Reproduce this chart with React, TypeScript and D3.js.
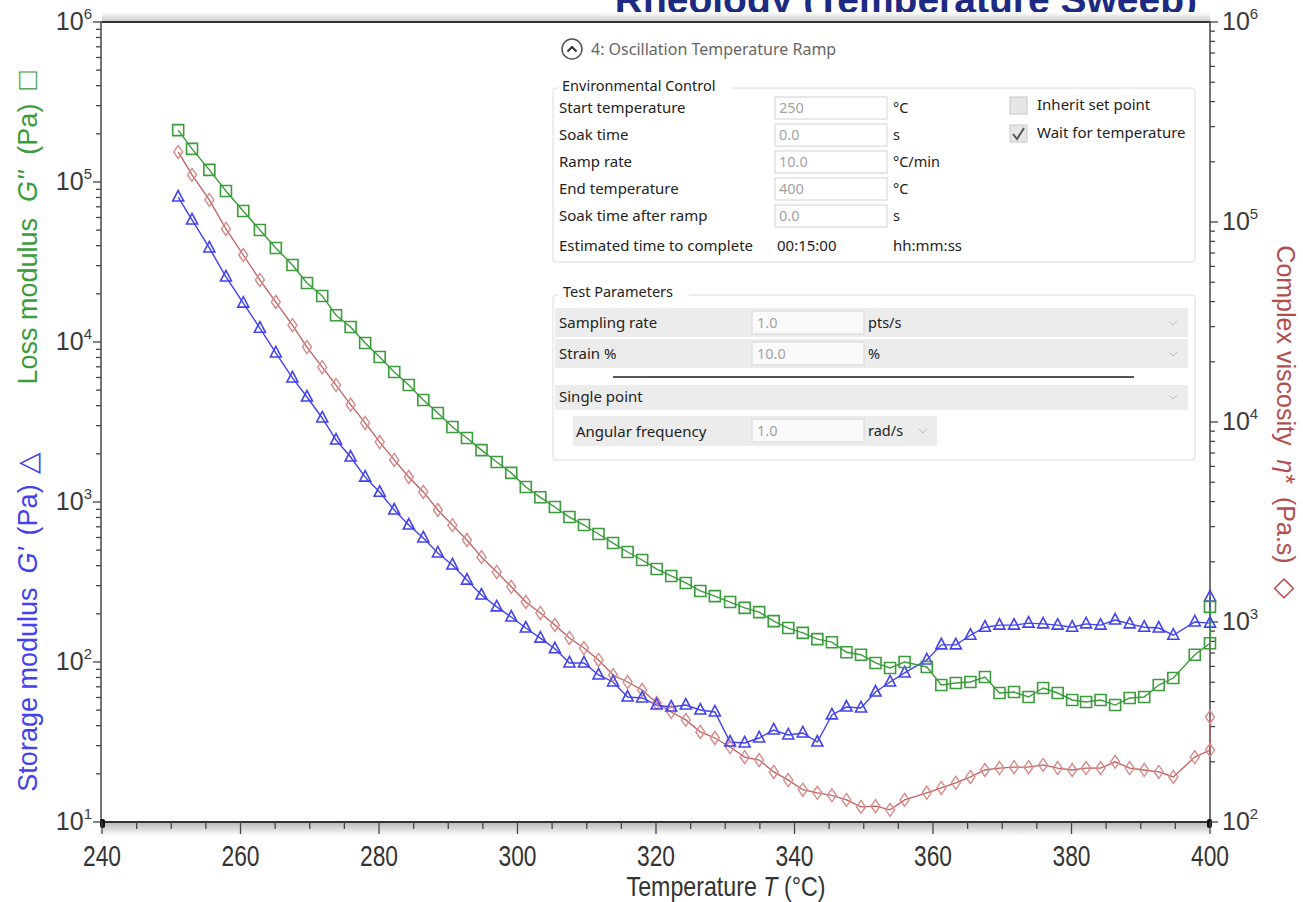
import React from "react";
import * as d3 from "d3";

// sample temperatures (°C)
const temperature = [
  251.0, 253.0, 255.5, 257.9, 260.4, 262.8, 265.1, 267.5, 269.6, 271.8,
  273.8, 275.9, 278.0, 280.1, 282.2, 284.3, 286.4, 288.5, 290.6, 292.7,
  294.8, 297.0, 299.1, 301.2, 303.3, 305.4, 307.5, 309.6, 311.7, 313.8,
  315.9, 318.0, 320.1, 322.2, 324.3, 326.4, 328.5, 330.7, 332.8, 334.9,
  337.0, 339.1, 341.2, 343.3, 345.4, 347.5, 349.6, 351.7, 353.8, 355.9,
  359.1, 361.2, 363.3, 365.4, 367.5, 369.6, 371.7, 373.8, 375.9, 378.0,
  380.1, 382.1, 384.2, 386.3, 388.4, 390.5, 392.6, 394.7, 397.8, 400.0, 400.0,
];

// storage modulus G' (Pa) - left axis
const storageModulus = [
  80500, 57900, 38700, 25500, 17500, 12200, 8540, 5960, 4530, 3350,
  2440, 1910, 1430, 1150, 891, 718, 596, 480, 404, 325,
  262, 221, 191, 163, 141, 121, 98.6, 98.6, 83.0, 75.0,
  60.4, 59.6, 53.8, 52.3, 53.8, 50.1, 48.7, 31.6, 31.2, 33.5,
  37.6, 35.0, 36.0, 31.6, 46.7, 52.3, 51.6, 64.9, 75.0, 85.4,
  103, 128, 128, 147, 165, 170, 170, 175, 173, 170,
  165, 173, 170, 183, 173, 165, 163, 147, 178, 175, 255,
];

// loss modulus G'' (Pa) - left axis
const lossModulus = [
  211000, 161000, 119000, 87900, 65900, 50100, 38700, 30300, 23400, 19400,
  14700, 12400, 9860, 8050, 6490, 5380, 4340, 3600, 2940, 2510,
  2110, 1780, 1520, 1240, 1070, 930, 805, 718, 631, 554,
  487, 434, 381, 345, 312, 278, 258, 237, 218, 205,
  180, 163, 152, 139, 133, 115, 111, 98.6, 91.7, 100,
  93.1, 71.8, 73.9, 75.0, 80.6, 64.0, 64.9, 60.4, 68.8, 64.0,
  57.9, 56.2, 57.9, 53.8, 59.6, 60.4, 71.8, 79.4, 111, 131, 221,
];

// complex viscosity eta* (Pa.s) - right axis
const complexViscosity = [
  224000, 172000, 129000, 92300, 68400, 51300, 39800, 30500, 23700, 18800,
  15300, 12200, 9890, 7940, 6460, 5310, 4470, 3630, 3050, 2570,
  2110, 1780, 1500, 1260, 1110, 966, 832, 741, 646, 543,
  501, 457, 394, 355, 324, 282, 263, 237, 211, 204,
  178, 162, 145, 140, 136, 129, 119, 120, 115, 129,
  140, 148, 157, 168, 182, 186, 188, 188, 193, 186,
  182, 186, 186, 200, 186, 182, 178, 168, 211, 229, 335,
];

const leftExponents = [1, 2, 3, 4, 5, 6];
const rightExponents = [2, 3, 4, 5, 6];

// the instrument dialog pasted over the plot
const envLabels = ["Start temperature", "Soak time", "Ramp rate", "End temperature", "Soak time after ramp"];
const envValues = ["250", "0.0", "10.0", "400", "0.0"];
const envUnits = ["°C", "s", "°C/min", "°C", "s"];
const testLabels = ["Sampling rate", "Strain %"];
const testValues = ["1.0", "10.0"];
const testUnits = ["pts/s", "%"];

const W = 1303;
const H = 902;
const GREEN = "#3a9c3a";
const BLUE = "#4242ee";
const RED = "#bf6060";
const RED_MARK = "#d88a8a";
const AXIS_FONT = "'Liberation Sans', Arial, sans-serif";
const UI_FONT = "'Noto Sans', 'Open Sans', sans-serif";

const isDecade = (v: number) => Math.abs(Math.log10(v) - Math.round(Math.log10(v))) < 1e-9;

export default function App() {
  const x = d3.scaleLinear().domain([240, 400]).range([102, 1210]);
  const yL = d3.scaleLog().domain([10, 1e6]).range([822, 22]);
  const yR = d3.scaleLog().domain([100, 1e6]).range([822, 22]);

  const lineOn = (scale: d3.ScaleLogarithmic<number, number>) =>
    d3.line<number>().x((_, i) => x(temperature[i])).y((d) => scale(d));

  const sq = (cx: number, cy: number) => `M${cx - 5.5},${cy - 5.5}h11v11h-11Z`;
  const tri = (cx: number, cy: number) => `M${cx},${cy - 6.5}L${cx + 5.5},${cy + 4}L${cx - 5.5},${cy + 4}Z`;
  const dia = (cx: number, cy: number) => `M${cx},${cy - 6.5}L${cx + 4.5},${cy}L${cx},${cy + 6.5}L${cx - 4.5},${cy}Z`;

  const envY = envLabels.map((_, i) => 108 + 27 * i);
  const testY = testLabels.map((_, i) => 323 + 31 * i);

  return (
    <div style={{ position: "absolute", left: 0, top: 0 }}>
      <svg width={W} height={H} style={{ display: "block", background: "#fff" }}>
        <defs>
          <linearGradient id="topShade" x1="0" y1="0" x2="0" y2="1">
            <stop offset="0" stopColor="#fff" />
            <stop offset="1" stopColor="#c8c8c8" />
          </linearGradient>
          <linearGradient id="botShade" x1="0" y1="0" x2="0" y2="1">
            <stop offset="0" stopColor="#bdbdbd" />
            <stop offset="1" stopColor="#fff" />
          </linearGradient>
        </defs>

        {/* slide title, cut off at the top as in the source picture */}
        <text x={1197} y={13} textAnchor="end" fontFamily={AXIS_FONT} fontWeight="bold"
          fontSize={39} fill="#1c2a82">Rheology (Temperature Sweep)</text>

        {/* frame */}
        <rect x={102} y={12} width={1108} height={10} fill="url(#topShade)" />
        <rect x={102} y={823} width={1108} height={13} fill="url(#botShade)" />
        <line x1={102} x2={1210} y1={22} y2={22} stroke="#333" strokeWidth={2} />
        <line x1={100} x2={1211} y1={822} y2={822} stroke="#333" strokeWidth={2} />
        <line x1={101} x2={101} y1={21} y2={823} stroke="#444" strokeWidth={1.5} />
        <line x1={1210} x2={1210} y1={21} y2={823} stroke="#444" strokeWidth={1.5} />
        <rect x={100} y={819} width={5} height={9} rx={2} fill="#111" />
        <rect x={1207} y={819} width={5} height={9} rx={2} fill="#111" />

        {/* left axis ticks */}
        {yL.ticks().map((t) => (
          <line key={"l" + t} x1={101} x2={isDecade(t) ? 93 : 96} y1={yL(t)} y2={yL(t)} stroke="#444" strokeWidth={1.3} />
        ))}
        {leftExponents.map((e) => (
          <text key={"le" + e} x={92} y={yL(10 ** e) + 8} textAnchor="end" fontFamily={AXIS_FONT} fontSize={25} fill="#3a3a3a">
            10<tspan fontSize={15} dy={-11}>{e}</tspan>
          </text>
        ))}

        {/* right axis ticks */}
        {yR.ticks().map((t) => (
          <line key={"r" + t} x1={1210} x2={isDecade(t) ? 1218 : 1215} y1={yR(t)} y2={yR(t)} stroke="#444" strokeWidth={1.3} />
        ))}
        {rightExponents.map((e) => (
          <text key={"re" + e} x={1222} y={yR(10 ** e) + 8} fontFamily={AXIS_FONT} fontSize={25} fill="#3a3a3a">
            10<tspan fontSize={15} dy={-11}>{e}</tspan>
          </text>
        ))}

        {/* bottom axis */}
        {x.ticks(32).map((t) => (
          <line key={"x" + t} x1={x(t)} x2={x(t)} y1={822} y2={t % 20 === 0 ? 834 : 829} stroke="#444" strokeWidth={1.3} />
        ))}
        {x.ticks(8).map((t) => (
          <text key={"xl" + t} transform={`translate(${x(t)},866) scale(0.76,1)`} textAnchor="middle"
            fontFamily={AXIS_FONT} fontSize={30} fill="#333">{t}</text>
        ))}
        <text transform="translate(726,896) scale(0.86,1)" textAnchor="middle" fontFamily={AXIS_FONT} fontSize={27} fill="#333">
          Temperature <tspan fontStyle="italic">T</tspan> (°C)
        </text>

        {/* axis titles */}
        <text transform="translate(37,622) rotate(-90)" textAnchor="middle" fontFamily={AXIS_FONT} fontSize={27} fill={BLUE}>
          Storage modulus<tspan dx={14} fontStyle="italic">G'</tspan><tspan dx={12}>(Pa)</tspan>
          <tspan dx={10} fontSize={28}>△</tspan>
        </text>
        <text transform="translate(37,228) rotate(-90)" textAnchor="middle" fontFamily={AXIS_FONT} fontSize={27} fill={GREEN}>
          Loss modulus<tspan dx={16} fontStyle="italic">G''</tspan><tspan dx={16}>(Pa)</tspan>
          <tspan dx={14} fontSize={30}>□</tspan>
        </text>
        <text transform="translate(1277,422) rotate(90)" textAnchor="middle" fontFamily={AXIS_FONT} fontSize={25} fill="#b34d4d">
          Complex viscosity<tspan dx={14} fontStyle="italic">η*</tspan><tspan dx={14}>(Pa.s)</tspan>
          <tspan dx={14} fontSize={27}>◇</tspan>
        </text>

        {/* dialog */}
        <g fontFamily={UI_FONT}>
          <circle cx={572} cy={49} r={10} fill="#fff" stroke="#555" strokeWidth={1.5} />
          <path d="M567.5,51.5L572,47L576.5,51.5" fill="none" stroke="#333" strokeWidth={2} />
          <text x={591} y={55} fontSize={16} fill="#666">4: Oscillation Temperature Ramp</text>

          <rect x={553} y={88} width={642} height={174} rx={3} fill="#fff" stroke="#dcdcdc" />
          <rect x={559} y={80} width={172} height={14} fill="#fff" />
          <text x={562} y={91} fontSize={14.5} fill="#222">Environmental Control</text>
          {envLabels.map((l, i) => (
            <g key={l}>
              <text x={559} y={envY[i] + 5} fontSize={15} fill="#222">{l}</text>
              <rect x={775} y={envY[i] - 11} width={112} height={22} fill="#fff" stroke="#d2d2d2" />
              <text x={779} y={envY[i] + 5} fontSize={14.5} fill="#a3a3a3">{envValues[i]}</text>
              <text x={893} y={envY[i] + 5} fontSize={14.5} fill="#222">{envUnits[i]}</text>
            </g>
          ))}
          <text x={559} y={251} fontSize={15} fill="#222">Estimated time to complete</text>
          <text x={777} y={251} fontSize={15} fill="#222">00:15:00</text>
          <text x={893} y={251} fontSize={15} fill="#222">hh:mm:ss</text>
          <rect x={1010} y={97} width={17} height={17} fill="#e6e6e6" stroke="#c6c6c6" />
          <rect x={1010} y={125} width={17} height={17} fill="#e6e6e6" stroke="#c6c6c6" />
          <path d="M1013,134L1017,139L1024,128" fill="none" stroke="#555" strokeWidth={2} />
          <text x={1037} y={110} fontSize={15} fill="#222">Inherit set point</text>
          <text x={1037} y={138} fontSize={15} fill="#222">Wait for temperature</text>

          <rect x={553} y={295} width={642} height={165} rx={3} fill="#fff" stroke="#dcdcdc" />
          <rect x={559} y={286} width={130} height={14} fill="#fff" />
          <text x={563} y={297} fontSize={14.5} fill="#222">Test Parameters</text>
          {testLabels.map((l, i) => (
            <g key={l}>
              <rect x={555} y={testY[i] - 15} width={633} height={29} fill="#ececec" />
              <text x={559} y={testY[i] + 5} fontSize={15} fill="#222">{l}</text>
              <rect x={752} y={testY[i] - 12} width={112} height={23} fill="#fafafa" stroke="#d5d5d5" />
              <text x={757} y={testY[i] + 5} fontSize={14.5} fill="#a3a3a3">{testValues[i]}</text>
              <text x={868} y={testY[i] + 5} fontSize={14.5} fill="#222">{testUnits[i]}</text>
              <path d={`M1169,${testY[i] - 2}L1173,${testY[i] + 2}L1177,${testY[i] - 2}`} fill="none" stroke="#bbb" />
            </g>
          ))}
          <line x1={613} x2={1134} y1={377} y2={377} stroke="#555" strokeWidth={2} />
          <rect x={555} y={385} width={633} height={25} fill="#ececec" />
          <text x={559} y={402} fontSize={15} fill="#222">Single point</text>
          <path d="M1169,395L1173,399L1177,395" fill="none" stroke="#bbb" />
          <rect x={573} y={416} width={364} height={30} fill="#ececec" />
          <text x={576} y={437} fontSize={15} fill="#222">Angular frequency</text>
          <rect x={752} y={419} width={112} height={23} fill="#fafafa" stroke="#d5d5d5" />
          <text x={757} y={436} fontSize={14.5} fill="#a3a3a3">1.0</text>
          <text x={868} y={436} fontSize={14.5} fill="#222">rad/s</text>
          <path d="M919,429L923,433L927,429" fill="none" stroke="#bbb" />
        </g>

        {/* series */}
        <path d={lineOn(yR)(complexViscosity) ?? ""} fill="none" stroke={RED} strokeWidth={1.3} />
        <path d={lineOn(yL)(storageModulus) ?? ""} fill="none" stroke={BLUE} strokeWidth={1.4} />
        <path d={lineOn(yL)(lossModulus) ?? ""} fill="none" stroke={GREEN} strokeWidth={1.4} />
        {complexViscosity.map((v, i) => (
          <path key={"d" + i} d={dia(x(temperature[i]), yR(v))} fill="none" stroke={RED_MARK} strokeWidth={1.4} />
        ))}
        {storageModulus.map((v, i) => (
          <path key={"t" + i} d={tri(x(temperature[i]), yL(v))} fill="none" stroke={BLUE} strokeWidth={1.6} />
        ))}
        {lossModulus.map((v, i) => (
          <path key={"s" + i} d={sq(x(temperature[i]), yL(v))} fill="none" stroke={GREEN} strokeWidth={1.6} />
        ))}
      </svg>
    </div>
  );
}
